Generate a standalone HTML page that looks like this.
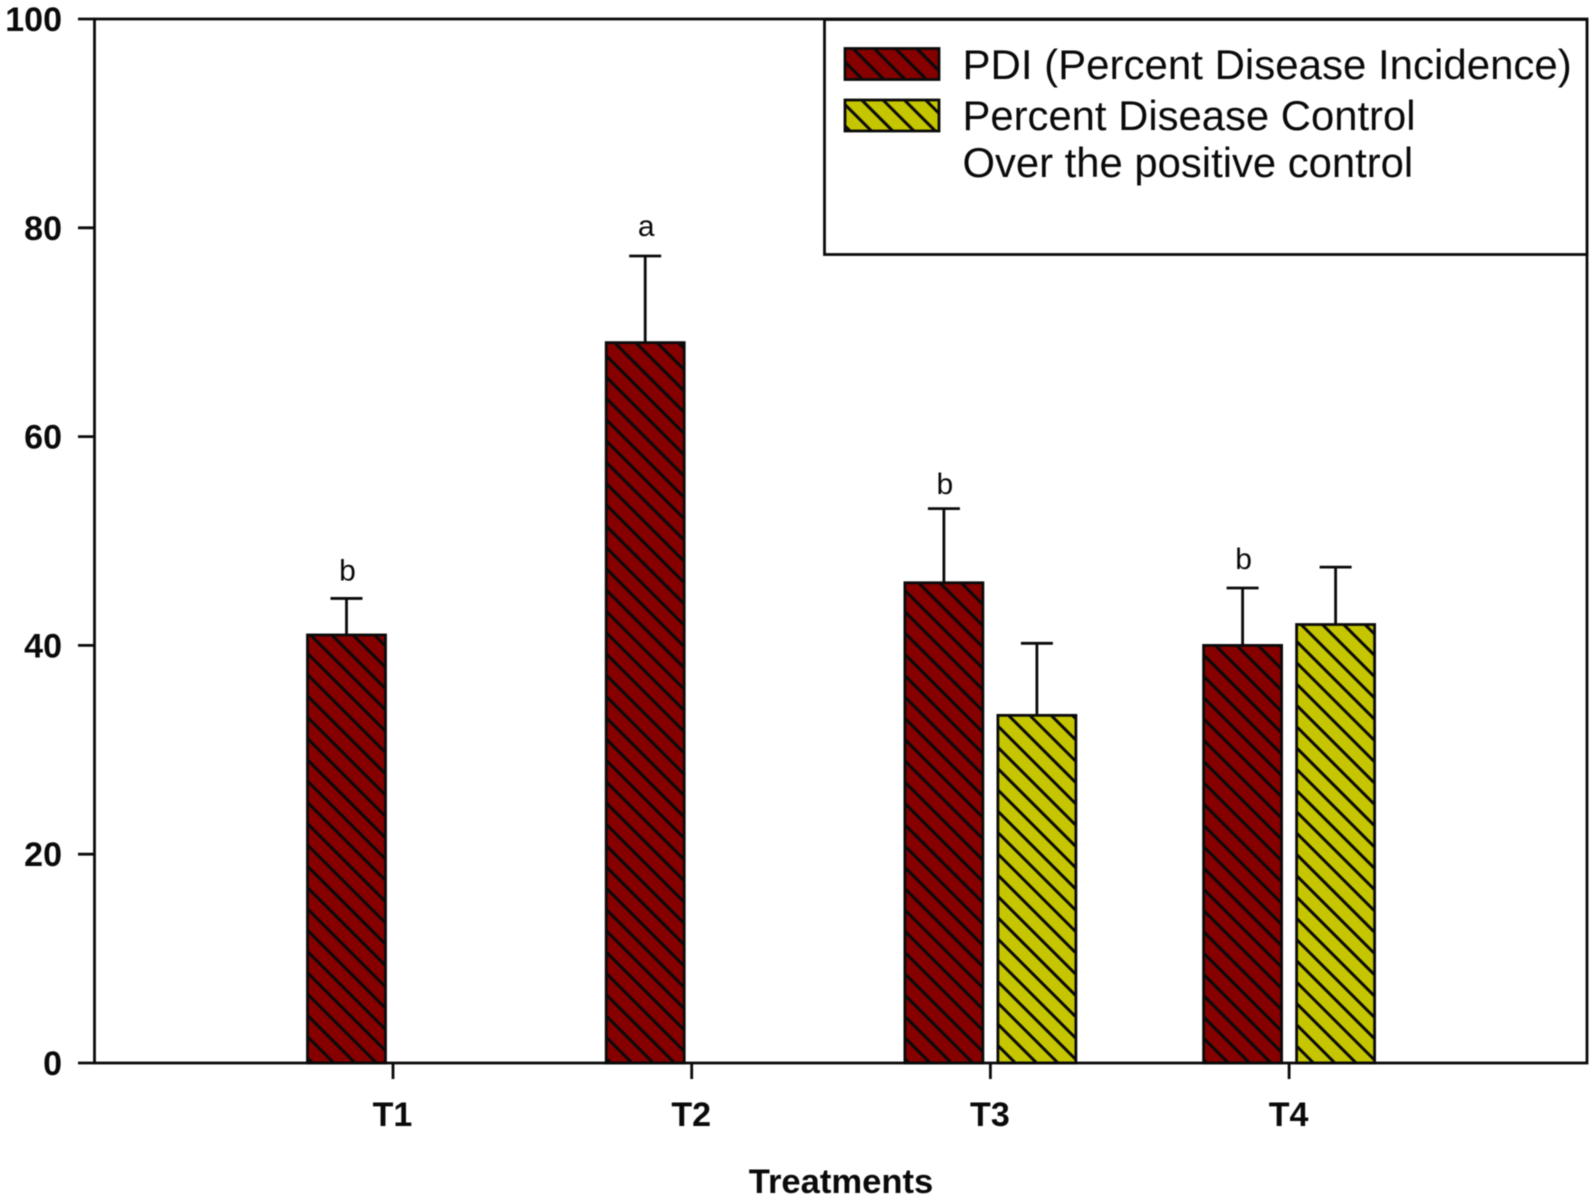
<!DOCTYPE html>
<html>
<head>
<meta charset="utf-8">
<title>Treatments chart</title>
<style>
html,body{margin:0;padding:0;background:#fff;}
svg{display:block;font-family:"Liberation Sans",Arial,sans-serif;filter:blur(0.4px);}
</style>
</head>
<body>
<svg id="chart" width="1595" height="1201" viewBox="0 0 1595 1201" xmlns="http://www.w3.org/2000/svg">
<defs>
<pattern id="hatch-red" patternUnits="userSpaceOnUse" width="15.06" height="15.06" patternTransform="translate(0 5) rotate(-45)">
<rect width="15.06" height="15.06" fill="#860000"/>
<rect x="0" width="1.5" height="15.06" fill="#0a0a0a"/>
<rect x="13.56" width="1.5" height="15.06" fill="#0a0a0a"/>
</pattern>
<pattern id="hatch-yellow" patternUnits="userSpaceOnUse" width="15.06" height="15.06" patternTransform="translate(0 5) rotate(-45)">
<rect width="15.06" height="15.06" fill="#c6c600"/>
<rect x="0" width="1.5" height="15.06" fill="#0a0a0a"/>
<rect x="13.56" width="1.5" height="15.06" fill="#0a0a0a"/>
</pattern>
</defs>
<rect width="1595" height="1201" fill="#fff"/>
<g id="bars"></g>
<g id="axes"></g>
<text x="841" y="1193" font-size="34.6" font-weight="bold" text-anchor="middle" fill="#0a0a0a">Treatments</text>
<g>
<rect x="824.5" y="19.5" width="762.5" height="235" fill="#fff" stroke="#0a0a0a" stroke-width="2.8"/>
<rect x="845" y="48.5" width="94" height="31" fill="url(#hatch-red)" stroke="#0a0a0a" stroke-width="2.8"/>
<text x="962.5" y="79" font-size="42" fill="#0a0a0a">PDI (Percent Disease Incidence)</text>
<rect x="845" y="100" width="94" height="31" fill="url(#hatch-yellow)" stroke="#0a0a0a" stroke-width="2.8"/>
<text x="962.5" y="130" font-size="41.8" fill="#0a0a0a">Percent Disease Control</text>
<text x="962.5" y="177" font-size="41.8" fill="#0a0a0a">Over the positive control</text>
</g>
</svg>
<script>
var categories = ['T1', 'T2', 'T3', 'T4'];
var pdiValues = [41, 69, 46, 40];
var pdiErrorTops = [44.5, 77.3, 53.1, 45.5];
var controlValues = [null, null, 33.3, 42];
var controlErrorTops = [null, null, 40.2, 47.5];
var significanceLetters = ['b', 'a', 'b', 'b'];
var letterHeights = [46.2, 79.2, 54.5, 47.3];
var yTickValues = [0, 20, 40, 60, 80, 100];

var NS = 'http://www.w3.org/2000/svg';
var plot = { left: 94.5, right: 1587, top: 19, bottom: 1063 };
var barWidth = 78;
var seriesOffset = 46.5;
var inkColor = '#0a0a0a';
var lineWidth = 2.8;

function yScale(v) {
  return plot.bottom - (v / 100) * (plot.bottom - plot.top);
}
function xScale(i) {
  return 393 + i * 298.7;
}
function make(parent, tag, attrs) {
  var el = document.createElementNS(NS, tag);
  for (var k in attrs) {
    el.setAttribute(k, attrs[k]);
  }
  parent.appendChild(el);
  return el;
}

var barsLayer = document.getElementById('bars');
var axesLayer = document.getElementById('axes');

function drawBar(i, value, errorTop, offset, fill, label) {
  if (value === null) {
    return;
  }
  var cx = xScale(i) + offset;
  var yTop = yScale(value);
  var yErr = yScale(errorTop);
  var stem = make(barsLayer, 'line', { x1: cx, x2: cx, y1: yTop, y2: yErr, stroke: inkColor, 'stroke-width': lineWidth });
  
  
  var cap = make(barsLayer, 'line', { x1: cx - 16, x2: cx + 16, y1: yErr, y2: yErr, stroke: inkColor, 'stroke-width': lineWidth });
  
  
  var bar = make(barsLayer, 'rect', { x: cx - barWidth / 2, y: yTop, width: barWidth, height: plot.bottom - yTop, fill: fill, stroke: inkColor, 'stroke-width': lineWidth });
  
  
}

categories.forEach(function (cat, i) {
  drawBar(i, pdiValues[i], pdiErrorTops[i], -seriesOffset, 'url(#hatch-red)', 'pdi-' + cat.toLowerCase());
  drawBar(i, controlValues[i], controlErrorTops[i], seriesOffset, 'url(#hatch-yellow)', 'control-' + cat.toLowerCase());

  var letter = make(barsLayer, 'text', { x: xScale(i) - seriesOffset + 1, y: yScale(letterHeights[i]), 'font-size': 30, 'text-anchor': 'middle', fill: inkColor });
  
  
  letter.textContent = significanceLetters[i];

  var tick = make(axesLayer, 'line', { x1: xScale(i), x2: xScale(i), y1: plot.bottom, y2: plot.bottom + 16, stroke: inkColor, 'stroke-width': lineWidth });
  
  

  var tickLabel = make(axesLayer, 'text', { x: xScale(i) - 0.5, y: 1126, 'font-size': 34, 'font-weight': 'bold', 'text-anchor': 'middle', fill: inkColor });
  
  
  tickLabel.textContent = cat;
});

yTickValues.forEach(function (v) {
  var tick = make(axesLayer, 'line', { x1: 78, x2: plot.left, y1: yScale(v), y2: yScale(v), stroke: inkColor, 'stroke-width': lineWidth });
  
  

  var tickLabel = make(axesLayer, 'text', { x: 62, y: yScale(v) + 12, 'font-size': 34, 'font-weight': 'bold', 'text-anchor': 'end', fill: inkColor });
  
  
  tickLabel.textContent = v;
});

var frame = make(axesLayer, 'rect', { x: plot.left, y: plot.top, width: plot.right - plot.left, height: plot.bottom - plot.top, fill: 'none', stroke: inkColor, 'stroke-width': lineWidth });


</script>
</body>
</html>
